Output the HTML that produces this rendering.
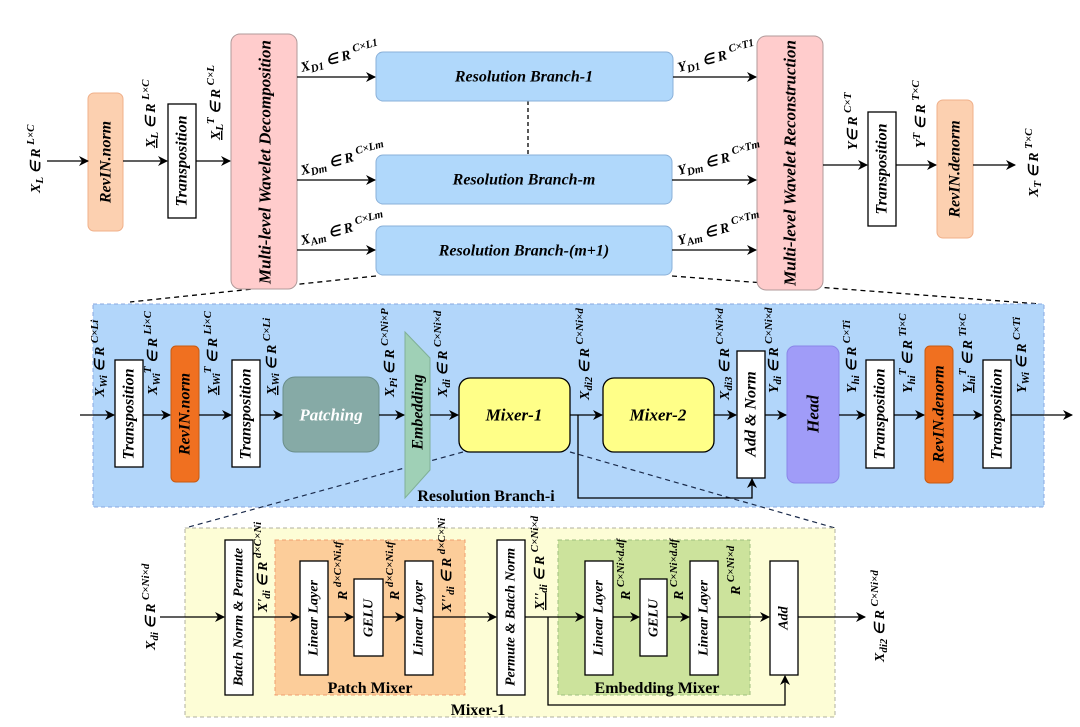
<!DOCTYPE html>
<html><head><meta charset="utf-8"><style>
html,body{margin:0;padding:0;background:#fff;}
svg{display:block;font-family:"Liberation Serif",serif;}
.b{font-weight:bold;font-style:italic;}
.l{font-weight:bold;font-style:italic;font-size:14px;}
.s{font-size:11px;}
</style></head><body>
<svg width="1080" height="727" viewBox="0 0 1080 727" xmlns="http://www.w3.org/2000/svg">
<defs>
<marker id="a" markerWidth="10" markerHeight="10" refX="9" refY="5" orient="auto" markerUnits="userSpaceOnUse">
<path d="M0,0 L10,5 L0,10 L3,5 Z" fill="#000"/></marker>
</defs>
<g stroke="#000" stroke-width="1.3" fill="none">
<line x1="376" y1="276" x2="130" y2="302" stroke-dasharray="5,4"/>
<line x1="672" y1="276" x2="1040" y2="304" stroke-dasharray="5,4"/>
<line x1="528" y1="101" x2="528" y2="155" stroke-dasharray="4,3"/>
</g>

<!-- TOP -->
<rect x="88" y="93" width="35" height="138" rx="6" fill="#fcd0b0" stroke="#f0b08a"/>
<rect x="168" y="104" width="28" height="114" fill="#fff" stroke="#000" stroke-width="1.3"/>
<rect x="231" y="34" width="66" height="255" rx="9" fill="#ffcccc" stroke="#b09a9a"/>
<rect x="376" y="52" width="297" height="49" rx="7" fill="#b0d8fb" stroke="#8ab0d8"/>
<rect x="376" y="155" width="296" height="49" rx="7" fill="#b0d8fb" stroke="#8ab0d8"/>
<rect x="376" y="226" width="296" height="49" rx="7" fill="#b0d8fb" stroke="#8ab0d8"/>
<rect x="757" y="36" width="66" height="254" rx="9" fill="#ffcccc" stroke="#b09a9a"/>
<rect x="868" y="112" width="28" height="114" fill="#fff" stroke="#000" stroke-width="1.3"/>
<rect x="937" y="100" width="36" height="138" rx="6" fill="#fcd0b0" stroke="#f0b08a"/>

<g stroke="#000" stroke-width="1.3" marker-end="url(#a)">
<line x1="47" y1="161" x2="88" y2="161"/>
<line x1="123" y1="161" x2="167" y2="161"/>
<line x1="196" y1="161" x2="230" y2="161"/>
<line x1="297" y1="77" x2="375" y2="77"/>
<line x1="297" y1="180" x2="375" y2="180"/>
<line x1="297" y1="250" x2="375" y2="250"/>
<line x1="673" y1="77" x2="756" y2="77"/>
<line x1="672" y1="180" x2="756" y2="180"/>
<line x1="672" y1="250" x2="756" y2="250"/>
<line x1="823" y1="165" x2="867" y2="165"/>
<line x1="896" y1="165" x2="936" y2="165"/>
<line x1="973" y1="165" x2="1015" y2="165"/>
</g>

<g class="b" font-size="16" text-anchor="middle" dominant-baseline="central">
<text transform="translate(106,162) rotate(-90)">RevIN.norm</text>
<text transform="translate(182,161) rotate(-90)">Transposition</text>
<text transform="translate(265,162) rotate(-90)" font-size="17">Multi-level Wavelet Decomposition</text>
<text x="524" y="77">Resolution Branch-1</text>
<text x="524" y="180">Resolution Branch-m</text>
<text x="524" y="251">Resolution Branch-(m+1)</text>
<text transform="translate(790,163) rotate(-90)" font-size="17">Multi-level Wavelet Reconstruction</text>
<text transform="translate(882,169) rotate(-90)">Transposition</text>
<text transform="translate(955,169) rotate(-90)">RevIN.denorm</text>
</g>

<g class="l">
<text transform="translate(40,193) rotate(-90)">X<tspan class="s" dy="3">L</tspan><tspan dy="-3"> ∈ R </tspan><tspan class="s" dy="-6">L×C</tspan></text>
<text transform="translate(155,148) rotate(-90)"><tspan text-decoration="underline">X</tspan><tspan class="s" dy="3">L</tspan><tspan dy="-3"> ∈ R </tspan><tspan class="s" dy="-6">L×C</tspan></text>
<text transform="translate(220,140) rotate(-90)"><tspan text-decoration="underline">X</tspan><tspan class="s" dy="3">L</tspan><tspan class="s" dy="-9">T</tspan><tspan dy="6"> ∈ R </tspan><tspan class="s" dy="-6">C×L</tspan></text>
<text transform="translate(302,72) rotate(-15)">X<tspan class="s" dy="3">D1</tspan><tspan dy="-3"> ∈ R </tspan><tspan class="s" dy="-6">C×L1</tspan></text>
<text transform="translate(302,175) rotate(-15)">X<tspan class="s" dy="3">Dm</tspan><tspan dy="-3"> ∈ R </tspan><tspan class="s" dy="-6">C×Lm</tspan></text>
<text transform="translate(302,245) rotate(-15)">X<tspan class="s" dy="3">Am</tspan><tspan dy="-3"> ∈ R </tspan><tspan class="s" dy="-6">C×Lm</tspan></text>
<text transform="translate(679,72) rotate(-15)">Y<tspan class="s" dy="3">D1</tspan><tspan dy="-3"> ∈ R </tspan><tspan class="s" dy="-6">C×T1</tspan></text>
<text transform="translate(679,175) rotate(-15)">Y<tspan class="s" dy="3">Dm</tspan><tspan dy="-3"> ∈ R </tspan><tspan class="s" dy="-6">C×Tm</tspan></text>
<text transform="translate(679,245) rotate(-15)">Y<tspan class="s" dy="3">Am</tspan><tspan dy="-3"> ∈ R </tspan><tspan class="s" dy="-6">C×Tm</tspan></text>
<text transform="translate(857,150) rotate(-90)">Y∈ R <tspan class="s" dy="-6">C×T</tspan></text>
<text transform="translate(925,148) rotate(-90)">Y<tspan class="s" dy="-5">T</tspan><tspan dy="5"> ∈ R </tspan><tspan class="s" dy="-6">T×C</tspan></text>
<text transform="translate(1038,197) rotate(-90)">X<tspan class="s" dy="3">T</tspan><tspan dy="-3"> ∈ R </tspan><tspan class="s" dy="-6">T×C</tspan></text>
</g>

<!-- MIDDLE -->
<rect x="93" y="304" width="951" height="203" fill="#b2d6fa" stroke="#8aa8e0" stroke-dasharray="4,3"/>
<g stroke="#1a2a4a" stroke-width="1.2" fill="none" stroke-dasharray="5,4">
<line x1="463" y1="452" x2="185" y2="528"/>
<line x1="570" y1="452" x2="835" y2="528"/>
</g>
<rect x="115" y="360" width="28" height="107" fill="#fff" stroke="#000" stroke-width="1.3"/>
<rect x="171" y="346" width="28" height="136" rx="5" fill="#f07020" stroke="#c85a10"/>
<rect x="232" y="360" width="28" height="107" fill="#fff" stroke="#000" stroke-width="1.3"/>
<rect x="283" y="377" width="96" height="75" rx="12" fill="#86aaa6" stroke="#6a8e8a"/>
<path d="M405,332 L430,358 L430,470 L405,498 Z" fill="#9fd0b6" stroke="#80b098"/>
<rect x="459" y="378" width="111" height="74" rx="11" fill="#ffff88" stroke="#000" stroke-width="1.3"/>
<rect x="603" y="378" width="111" height="74" rx="11" fill="#ffff88" stroke="#000" stroke-width="1.3"/>
<rect x="737" y="351" width="28" height="127" fill="#fff" stroke="#000" stroke-width="1.3"/>
<rect x="787" y="346" width="52" height="137" rx="8" fill="#a09cf8" stroke="#8a86e8"/>
<rect x="866" y="360" width="28" height="108" fill="#fff" stroke="#000" stroke-width="1.3"/>
<rect x="925" y="346" width="28" height="137" rx="5" fill="#f07020" stroke="#c85a10"/>
<rect x="983" y="360" width="28" height="108" fill="#fff" stroke="#000" stroke-width="1.3"/>

<g stroke="#000" stroke-width="1.3" fill="none">
<line x1="80" y1="415" x2="114" y2="415" marker-end="url(#a)"/>
<line x1="143" y1="415" x2="170" y2="415" marker-end="url(#a)"/>
<line x1="199" y1="415" x2="231" y2="415" marker-end="url(#a)"/>
<line x1="260" y1="415" x2="282" y2="415" marker-end="url(#a)"/>
<line x1="379" y1="415" x2="404" y2="415" marker-end="url(#a)"/>
<line x1="430" y1="415" x2="458" y2="415" marker-end="url(#a)"/>
<line x1="570" y1="415" x2="602" y2="415" marker-end="url(#a)"/>
<line x1="714" y1="415" x2="736" y2="415" marker-end="url(#a)"/>
<line x1="765" y1="415" x2="786" y2="415" marker-end="url(#a)"/>
<line x1="839" y1="415" x2="865" y2="415" marker-end="url(#a)"/>
<line x1="894" y1="415" x2="924" y2="415" marker-end="url(#a)"/>
<line x1="953" y1="415" x2="982" y2="415" marker-end="url(#a)"/>
<line x1="1011" y1="415" x2="1072" y2="415" marker-end="url(#a)"/>
<polyline points="578,415 578,498 752,498 752,479" marker-end="url(#a)"/>
</g>
<g class="b" text-anchor="middle" dominant-baseline="central" font-size="16">
<text transform="translate(129,414) rotate(-90)">Transposition</text>
<text transform="translate(185,414) rotate(-90)">RevIN.norm</text>
<text transform="translate(246,414) rotate(-90)">Transposition</text>
<text x="331" y="415" fill="#fff" font-size="17">Patching</text>
<text transform="translate(418,412) rotate(-90)">Embedding</text>
<text x="514" y="415" font-size="17">Mixer-1</text>
<text x="658" y="415" font-size="17">Mixer-2</text>
<text transform="translate(751,414) rotate(-90)">Add &amp; Norm</text>
<text transform="translate(813,414) rotate(-90)" font-size="17">Head</text>
<text transform="translate(880,414) rotate(-90)">Transposition</text>
<text transform="translate(939,414) rotate(-90)">RevIN.denorm</text>
<text transform="translate(997,414) rotate(-90)">Transposition</text>
</g>
<text x="486" y="501" font-weight="bold" font-size="16" text-anchor="middle">Resolution Branch-i</text>

<g class="l">
<text transform="translate(104,397) rotate(-90)">X<tspan class="s" dy="3">Wi</tspan><tspan dy="-3"> ∈ R </tspan><tspan class="s" dy="-6">C×Li</tspan></text>
<text transform="translate(157,395) rotate(-90)">X<tspan class="s" dy="3">Wi</tspan><tspan class="s" dy="-9">T</tspan><tspan dy="6"> ∈ R </tspan><tspan class="s" dy="-6">Li×C</tspan></text>
<text transform="translate(217,395) rotate(-90)"><tspan text-decoration="underline">X</tspan><tspan class="s" dy="3">Wi</tspan><tspan class="s" dy="-9">T</tspan><tspan dy="6"> ∈ R </tspan><tspan class="s" dy="-6">Li×C</tspan></text>
<text transform="translate(276,395) rotate(-90)"><tspan text-decoration="underline">X</tspan><tspan class="s" dy="3">Wi</tspan><tspan dy="-3"> ∈ R </tspan><tspan class="s" dy="-6">C×Li</tspan></text>
<text transform="translate(394,397) rotate(-90)">X<tspan class="s" dy="3">Pi</tspan><tspan dy="-3"> ∈ R </tspan><tspan class="s" dy="-6">C×Ni×P</tspan></text>
<text transform="translate(447,397) rotate(-90)">X<tspan class="s" dy="3">di</tspan><tspan dy="-3"> ∈ R </tspan><tspan class="s" dy="-6">C×Ni×d</tspan></text>
<text transform="translate(589,400) rotate(-90)">X<tspan class="s" dy="3">di2</tspan><tspan dy="-3"> ∈ R </tspan><tspan class="s" dy="-6">C×Ni×d</tspan></text>
<text transform="translate(729,400) rotate(-90)">X<tspan class="s" dy="3">di3</tspan><tspan dy="-3"> ∈ R </tspan><tspan class="s" dy="-6">C×Ni×d</tspan></text>
<text transform="translate(778,393) rotate(-90)">Y<tspan class="s" dy="3">di</tspan><tspan dy="-3"> ∈ R </tspan><tspan class="s" dy="-6">C×Ni×d</tspan></text>
<text transform="translate(856,393) rotate(-90)">Y<tspan class="s" dy="3">hi</tspan><tspan dy="-3"> ∈ R </tspan><tspan class="s" dy="-6">C×Ti</tspan></text>
<text transform="translate(912,393) rotate(-90)">Y<tspan class="s" dy="3">hi</tspan><tspan class="s" dy="-9">T</tspan><tspan dy="6"> ∈ R </tspan><tspan class="s" dy="-6">Ti×C</tspan></text>
<text transform="translate(972,393) rotate(-90)"><tspan text-decoration="underline">Y</tspan><tspan class="s" dy="3">hi</tspan><tspan class="s" dy="-9">T</tspan><tspan dy="6"> ∈ R </tspan><tspan class="s" dy="-6">Ti×C</tspan></text>
<text transform="translate(1026,393) rotate(-90)">Y<tspan class="s" dy="3">Wi</tspan><tspan dy="-3"> ∈ R </tspan><tspan class="s" dy="-6">C×Ti</tspan></text>
</g>

<!-- BOTTOM -->
<rect x="185" y="528" width="650" height="189" fill="#fdfdd6" stroke="#b0b0a0" stroke-dasharray="4,3"/>
<rect x="275" y="540" width="190" height="155" fill="#fccd9a" stroke="#f0a070" stroke-dasharray="4,3"/>
<rect x="558" y="540" width="192" height="155" fill="#cce39c" stroke="#a0c080" stroke-dasharray="4,3"/>
<g fill="#fff" stroke="#000" stroke-width="1.3">
<rect x="225" y="540" width="28" height="155"/>
<rect x="300" y="561" width="28" height="114"/>
<rect x="354" y="579" width="29" height="77"/>
<rect x="405" y="561" width="28" height="114"/>
<rect x="497" y="540" width="28" height="155"/>
<rect x="585" y="561" width="28" height="114"/>
<rect x="640" y="579" width="27" height="77"/>
<rect x="690" y="561" width="28" height="114"/>
<rect x="770" y="561" width="28" height="114"/>
</g>
<g stroke="#000" stroke-width="1.3" fill="none" marker-end="url(#a)">
<line x1="160" y1="617" x2="224" y2="617"/>
<line x1="253" y1="617" x2="299" y2="617"/>
<line x1="328" y1="617" x2="353" y2="617"/>
<line x1="383" y1="617" x2="404" y2="617"/>
<line x1="433" y1="617" x2="496" y2="617"/>
<line x1="525" y1="617" x2="584" y2="617"/>
<line x1="613" y1="617" x2="639" y2="617"/>
<line x1="667" y1="617" x2="689" y2="617"/>
<line x1="718" y1="617" x2="769" y2="617"/>
<line x1="798" y1="617" x2="865" y2="617"/>
<polyline points="548,617 548,705 785,705 785,676"/>
</g>
<g class="b" text-anchor="middle" dominant-baseline="central" font-size="14">
<text transform="translate(239,617) rotate(-90)">Batch Norm &amp; Permute</text>
<text transform="translate(314,618) rotate(-90)">Linear Layer</text>
<text transform="translate(369,618) rotate(-90)">GELU</text>
<text transform="translate(419,618) rotate(-90)">Linear Layer</text>
<text transform="translate(511,617) rotate(-90)">Permute &amp; Batch Norm</text>
<text transform="translate(599,618) rotate(-90)">Linear Layer</text>
<text transform="translate(654,618) rotate(-90)">GELU</text>
<text transform="translate(704,618) rotate(-90)">Linear Layer</text>
<text transform="translate(784,618) rotate(-90)">Add</text>
</g>
<g font-weight="bold" font-size="16" text-anchor="middle">
<text x="370" y="693">Patch Mixer</text>
<text x="657" y="693">Embedding Mixer</text>
<text x="478" y="715">Mixer-1</text>
</g>
<g class="l">
<text transform="translate(155,650) rotate(-90)">X<tspan class="s" dy="3">di</tspan><tspan dy="-3"> ∈ R </tspan><tspan class="s" dy="-6">C×Ni×d</tspan></text>
<text transform="translate(267,612) rotate(-90)">X'<tspan class="s" dy="3">di</tspan><tspan dy="-3"> ∈ R </tspan><tspan class="s" dy="-6">d×C×Ni</tspan></text>
<text transform="translate(347,600) rotate(-90)">R <tspan class="s" dy="-6">d×C×Ni.tf</tspan></text>
<text transform="translate(399,600) rotate(-90)">R <tspan class="s" dy="-6">d×C×Ni.tf</tspan></text>
<text transform="translate(451,612) rotate(-90)">X''<tspan class="s" dy="3">di</tspan><tspan dy="-3"> ∈ R </tspan><tspan class="s" dy="-6">d×C×Ni</tspan></text>
<text transform="translate(544,610) rotate(-90)"><tspan text-decoration="underline">X''</tspan><tspan class="s" dy="3">di</tspan><tspan dy="-3"> ∈ R </tspan><tspan class="s" dy="-6">C×Ni×d</tspan></text>
<text transform="translate(630,600) rotate(-90)">R <tspan class="s" dy="-6">C×Ni×d.df</tspan></text>
<text transform="translate(683,600) rotate(-90)">R <tspan class="s" dy="-6">C×Ni×d.df</tspan></text>
<text transform="translate(740,595) rotate(-90)">R <tspan class="s" dy="-6">C×Ni×d</tspan></text>
<text transform="translate(884,662) rotate(-90)">X<tspan class="s" dy="3">di2</tspan><tspan dy="-3"> ∈ R </tspan><tspan class="s" dy="-6">C×Ni×d</tspan></text>
</g>
</svg>
</body></html>
